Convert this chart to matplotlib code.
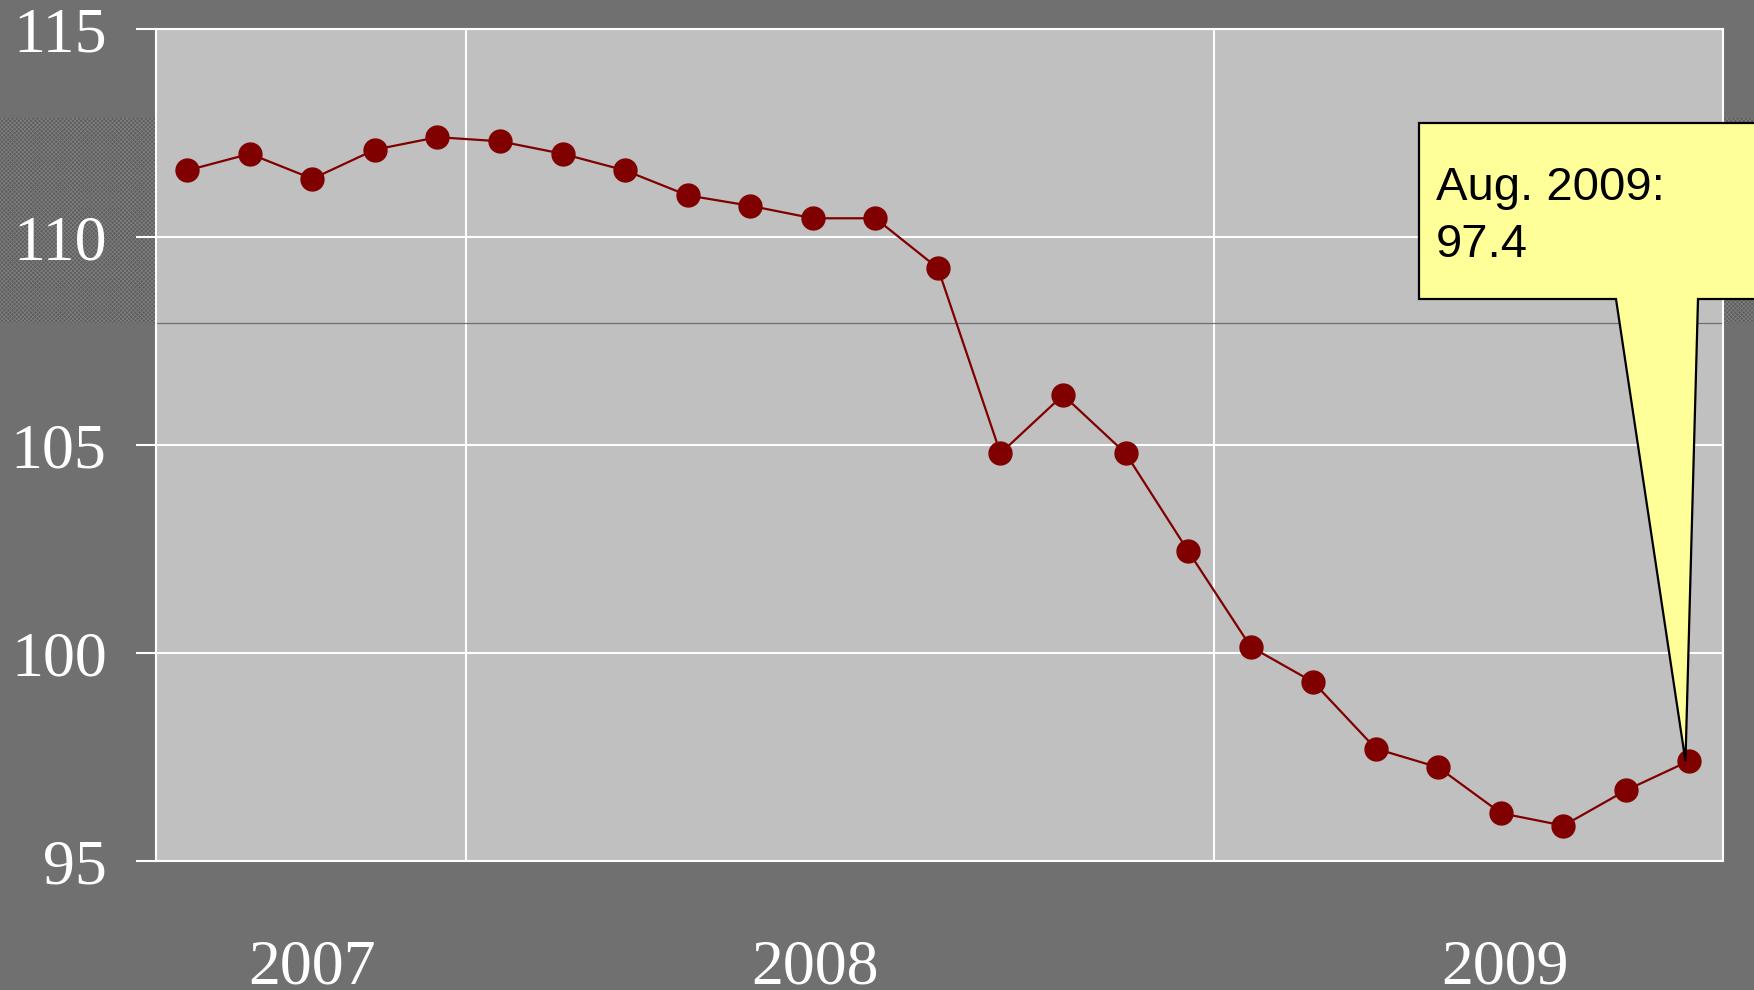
import numpy as np
import matplotlib
matplotlib.use('Agg')
import matplotlib.pyplot as plt
from matplotlib.patches import Rectangle, Polygon
from matplotlib.lines import Line2D
import matplotlib.transforms as mtransforms

# ---------------- data ----------------
months = ['Aug 2007', 'Sep 2007', 'Oct 2007', 'Nov 2007', 'Dec 2007',
          'Jan 2008', 'Feb 2008', 'Mar 2008', 'Apr 2008', 'May 2008',
          'Jun 2008', 'Jul 2008', 'Aug 2008', 'Sep 2008', 'Oct 2008',
          'Nov 2008', 'Dec 2008', 'Jan 2009', 'Feb 2009', 'Mar 2009',
          'Apr 2009', 'May 2009', 'Jun 2009', 'Jul 2009', 'Aug 2009']
values = [111.6, 112.0, 111.4, 112.1, 112.4,
          112.3, 112.0, 111.6, 111.0, 110.75,
          110.45, 110.45, 109.25, 104.8, 106.2,
          104.8, 102.45, 100.15, 99.3, 97.7,
          97.25, 96.15, 95.85, 96.7, 97.4]
year_labels = ['2007', '2008', '2009']
y_ticks = [95, 100, 105, 110, 115]
callout_text = ['Aug. 2009:', '97.4']

# ---------------- layout constants ----------------
W, H, DPI = 1754, 990, 100
BG = '#707070'
PLOT_BG = '#c0c0c0'
RED = '#800000'
year_label_x = [2.0, 10.04, 21.07]      # positions of year labels (index units)
year_bounds = [4.46, 16.41]             # vertical grid lines at year changes


def fx(px):
    return px / W


def fy(py):
    return 1 - py / H


plt.rcParams['hatch.linewidth'] = 0.6
fig = plt.figure(figsize=(W / DPI, H / DPI), dpi=DPI, facecolor=BG)

# hatched band behind the chart
band = Rectangle((0, fy(323)), 1, fy(118) - fy(323), transform=fig.transFigure,
                 facecolor='#5c5c5c', edgecolor='#7e7e7e', hatch='xxxxxxxx',
                 linewidth=0, zorder=-5)
fig.add_artist(band)

ax = fig.add_axes([fx(156), fy(861), fx(1723) - fx(156), fy(29) - fy(861)])
ax.set_facecolor(PLOT_BG)

x = np.arange(len(values))
ax.plot(x, values, color=RED, linewidth=1.6, marker='o', markersize=16.5,
        markerfacecolor=RED, markeredgecolor=RED, zorder=4)

ax.set_xlim(-0.5, 24.55)
ax.set_ylim(95, 115)
ax.set_yticks(y_ticks)
ax.set_yticklabels([str(v) for v in y_ticks], fontfamily='Liberation Serif',
                   fontsize=46, color='white')
ax.tick_params(axis='y', direction='out', length=14.5, width=1.5,
               color='white', pad=21)
ax.set_xticks([])

ax.yaxis.grid(True, color='white', linewidth=1.5, zorder=1)
for b in year_bounds:
    ax.axvline(b, color='white', linewidth=1.5, zorder=1)
ax.set_axisbelow(True)
for s in ax.spines.values():
    s.set_color('white')
    s.set_linewidth(1.5)

# thin line marking bottom of the band across the plot
ax.add_line(Line2D([0, 1], [fy(323), fy(323)], transform=fig.transFigure,
                   color='#707070', linewidth=0.9, zorder=2))

# year labels
trans = mtransforms.blended_transform_factory(ax.transData, fig.transFigure)
for lab, xp in zip(year_labels, year_label_x):
    fig.text(xp, fy(983), lab, transform=trans, ha='center', va='baseline',
             fontfamily='Liberation Serif', fontsize=46, color='white')

# callout
tip_disp = ax.transData.transform((x[-1] - 0.05, values[-1]))
tip = fig.transFigure.inverted().transform(tip_disp)
poly = [(fx(1419), fy(123)), (fx(1760), fy(123)), (fx(1760), fy(299)),
        (fx(1698), fy(299)), (tip[0], tip[1]), (fx(1616), fy(299)),
        (fx(1419), fy(299))]
callout = Polygon(poly, closed=True, transform=fig.transFigure,
                  facecolor='#ffff99', edgecolor='black', linewidth=1.6,
                  joinstyle='miter', zorder=10)
fig.add_artist(callout)
fig.text(fx(1436), fy(200), callout_text[0], ha='left', va='baseline',
         fontfamily='Liberation Sans', fontsize=34, color='black', zorder=11)
fig.text(fx(1436), fy(256.7), callout_text[1], ha='left', va='baseline',
         fontfamily='Liberation Sans', fontsize=34, color='black', zorder=11)

fig.savefig('out.png', dpi=DPI, facecolor=BG)
